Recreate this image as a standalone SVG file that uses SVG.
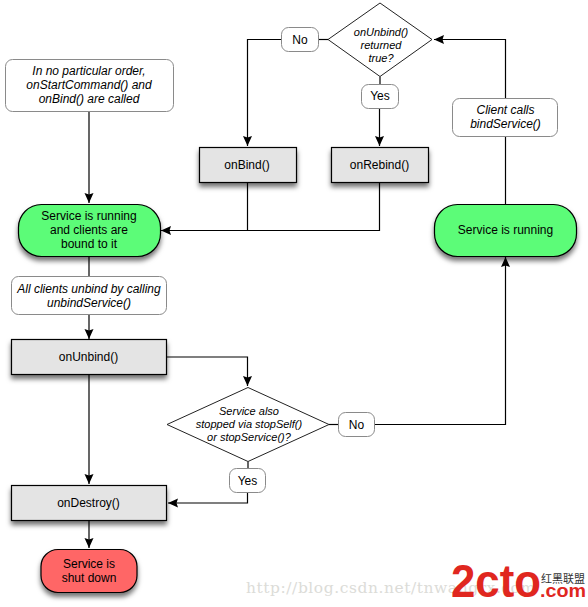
<svg xmlns="http://www.w3.org/2000/svg" width="588" height="607" viewBox="0 0 588 607">
<style>
text{font-family:"Liberation Sans",Arial,sans-serif;font-size:12px;fill:#000;text-anchor:middle}
.i{font-style:italic}
.d{font-size:11px;font-style:italic}
.note{fill:#fff;stroke:#8a8a8a;stroke-width:1}
.proc{fill:#e4e4e4;stroke:#000;stroke-width:1.2;filter:url(#s)}
.go{fill:#5cfc78;stroke:#000;stroke-width:1.2;filter:url(#s)}
.stop{fill:#ff6666;stroke:#000;stroke-width:1.2;filter:url(#s)}
.dia{fill:#fff;stroke:#222;stroke-width:1}
.c{fill:none;stroke:#000;stroke-width:1.2}
.a{marker-end:url(#m)}
.wm{font-family:"DejaVu Serif","Liberation Serif",serif;font-size:15.500px;fill:#dcdcd8;text-anchor:start;letter-spacing:.55px}
.logo{font-family:"Liberation Sans",sans-serif;font-weight:bold;fill:#e0271f;text-anchor:start}
</style>
<defs>
<filter id="s" x="-15%" y="-20%" width="130%" height="160%"><feDropShadow dx="0" dy="4" stdDeviation="2.6" flood-color="#000" flood-opacity=".55"/></filter>
<marker id="m" markerUnits="userSpaceOnUse" markerWidth="11" markerHeight="11" refX="10" refY="5" orient="auto"><path d="M0 .5L10 5L0 9.500L1.500 5Z" fill="#000"/></marker>
</defs>
<g id="connectors">
<path class="c a" d="M89 111V203"/>
<path class="c" d="M89 256V277"/>
<path class="c a" d="M89 315V339"/>
<path class="c a" d="M89 375V484"/>
<path class="c a" d="M89 521V548"/>
<path class="c a" d="M166 357H247.500V386"/>
<path class="c" d="M248 461.500V469"/>
<path class="c a" d="M247.500 492.500V503H168"/>
<path class="c" d="M329 424.500H339"/>
<path class="c a" d="M374.500 424.500H505.500V257"/>
<path class="c" d="M505.500 204.500V136"/>
<path class="c a" d="M505.500 98.500V39.500H434"/>
<path class="c" d="M328 39.500H318"/>
<path class="c a" d="M281 39.500H247.500V146"/>
<path class="c" d="M380 76.500V85"/>
<path class="c a" d="M379.500 108V146"/>
<path class="c" d="M247.500 182V230.500"/>
<path class="c a" d="M379.500 182V230.500H161"/>
</g>
<g id="note-order"><rect class="note" x="5.500" y="59.500" width="168" height="52" rx="7"/><text class="i" x="89" y="75">In no particular order,</text><text class="i" x="89" y="89">onStartCommand() and</text><text class="i" x="89" y="103">onBind() are called</text></g>
<g id="running-bound"><rect class="go" x="18.500" y="204.500" width="142" height="52" rx="23"/><text x="89" y="220">Service is running</text><text x="89" y="234">and clients are</text><text x="89" y="248">bound to it</text></g>
<g id="note-unbind"><rect class="note" x="11.500" y="276.500" width="155" height="38" rx="7"/><text class="i" x="89" y="293">All clients unbind by calling</text><text class="i" x="89" y="307">unbindService()</text></g>
<g id="onUnbind"><rect class="proc" x="11.500" y="339.500" width="155" height="35"/><text x="88.500" y="361">onUnbind()</text></g>
<g id="onDestroy"><rect class="proc" x="11.500" y="485.500" width="155" height="35"/><text x="88.500" y="507">onDestroy()</text></g>
<g id="shutdown"><rect class="stop" x="41" y="549.500" width="96" height="43" rx="17"/><text x="89" y="568">Service is</text><text x="89" y="582">shut down</text></g>
<g id="onBind"><rect class="proc" x="199.500" y="147.500" width="97" height="35"/><text x="247" y="169">onBind()</text></g>
<g id="onRebind"><rect class="proc" x="331.500" y="147.500" width="97" height="35"/><text x="379.500" y="169">onRebind()</text></g>
<g id="decision-rebind"><path class="dia" d="M380 3L432 39.500L380 76.500L328 39.500Z"/><text class="d" x="381" y="36">onUnbind()</text><text class="d" x="381" y="49">returned</text><text class="d" x="381" y="62">true?</text></g>
<g id="label-no-top"><rect class="note" x="281.500" y="27.500" width="37" height="24" rx="7"/><text x="300" y="44">No</text></g>
<g id="label-yes-top"><rect class="note" x="361.500" y="84.500" width="37" height="24" rx="7"/><text x="380" y="100">Yes</text></g>
<g id="note-bind"><rect class="note" x="452.500" y="98.500" width="105" height="38" rx="7"/><text class="i" x="505.500" y="114">Client calls</text><text class="i" x="505.500" y="128">bindService()</text></g>
<g id="running"><rect class="go" x="434.500" y="204.500" width="142" height="52" rx="23"/><text x="505.500" y="234">Service is running</text></g>
<g id="decision-stop"><path class="dia" d="M248 387.500L329 424.500L248 461.500L167 424.500Z"/><text class="d" x="249" y="415">Service also</text><text class="d" x="249" y="428">stopped via stopSelf()</text><text class="d" x="249" y="441">or stopService()?</text></g>
<g id="label-yes-bottom"><rect class="note" x="229.500" y="468.500" width="36" height="24" rx="7"/><text x="247.500" y="485">Yes</text></g>
<g id="label-no-bottom"><rect class="note" x="338.500" y="412.500" width="36" height="24" rx="7"/><text x="356.500" y="429">No</text></g>
<text class="wm" x="246" y="593">http://blog.csdn.net/tnwangrx.com</text>
<g id="logo">
<text class="logo" x="451" y="597" font-size="46" style="font-size:46px" textLength="90" lengthAdjust="spacingAndGlyphs">2cto</text>
<text class="logo" x="540" y="597" style="font-size:19px" textLength="46" lengthAdjust="spacingAndGlyphs">.com</text>
<text x="541" y="583" style="font-family:'Noto Sans CJK SC',sans-serif;font-size:11px;fill:#333;text-anchor:start" textLength="44">红黑联盟</text>
</g>
</svg>
